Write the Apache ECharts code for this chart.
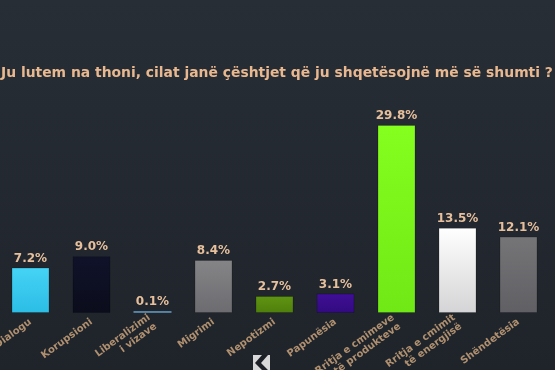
<!DOCTYPE html>
<html><head><meta charset="utf-8">
<script src="https://cdn.jsdelivr.net/npm/echarts@6/dist/echarts.min.js"></script>
<style>html,body{margin:0;padding:0;background:#262c34;}#c{width:555px;height:370px;}</style>
</head><body><div id="c"></div>
<script>
const title = "Ju lutem na thoni, cilat janë çështjet që ju shqetësojnë më së shumti ?";
const categories = ["Dialogu","Korupsioni","Liberalizimi\ni vizave","Migrimi","Nepotizmi","Papunësia","Rritja e cmimeve\ntë produkteve","Rritja e cmimit\ntë energjisë","Shëndetësia"];
const values = [7.2, 9.0, 0.1, 8.4, 2.7, 3.1, 29.8, 13.5, 12.1];
const barColors = [
  ["#45d3f5","#2cbde6"],
  ["#10122a","#0b0d1c"],
  ["#5a88a8","#4d7896"],
  ["#858588","#6c6c70"],
  ["#5f9412","#4f7f0c"],
  ["#3f0f95","#330a80"],
  ["#84ff1e","#70e816"],
  ["#ffffff","#d4d4d6"],
  ["#757578","#606064"]
];
const chart = echarts.init(document.getElementById('c'));
chart.setOption({
  backgroundColor: new echarts.graphic.LinearGradient(0,0,0,1,[{offset:0,color:'#282e36'},{offset:1,color:'#1f242b'}]),
  title: {text: title, left: -4, top: 61, textStyle:{color:'#e8b890', fontSize:13.9, fontWeight:'bold', fontFamily:'DejaVu Sans'}},
  grid: {left: 0, right: 6, top: 111, bottom: 57, containLabel:false, outerBoundsMode:'none'},
  xAxis: {type:'category', data: categories,
    axisLine:{show:false}, axisTick:{show:false},
    axisLabel:{rotate:36, color:'#b0906f', fontSize:10, fontWeight:'bold', fontFamily:'DejaVu Sans', margin:8, interval:0, lineHeight:11, align:'right'}},
  yAxis: {type:'value', min:0, max:32, show:false, splitLine:{show:false}},
  series: [{type:'bar', barWidth:38, barMinHeight:2,
    data: values.map((v,i)=>({value:v, itemStyle:{
      color:new echarts.graphic.LinearGradient(0,0,0,1,[{offset:0,color:barColors[i][0]},{offset:1,color:barColors[i][1]}]),
      borderColor:'rgba(0,0,0,0.2)', borderWidth: v < 1 ? 0 : 1}})),
    label:{show:true, position:'top', distance:3, formatter:p=>p.value.toFixed(1)+'%', color:'#e6bf9c', fontSize:12, fontWeight:'bold', fontFamily:'DejaVu Sans'}
  }],
  graphic: [
    {type:'rect', shape:{x:253,y:355,width:17,height:15}, style:{fill:'#d8d8d8'}},
    {type:'polygon', shape:{points:[[268,355],[262,355],[255,363],[262,370],[268,370],[261,363]]}, style:{fill:'#1c2026'}}
  ]
});
</script></body></html>
